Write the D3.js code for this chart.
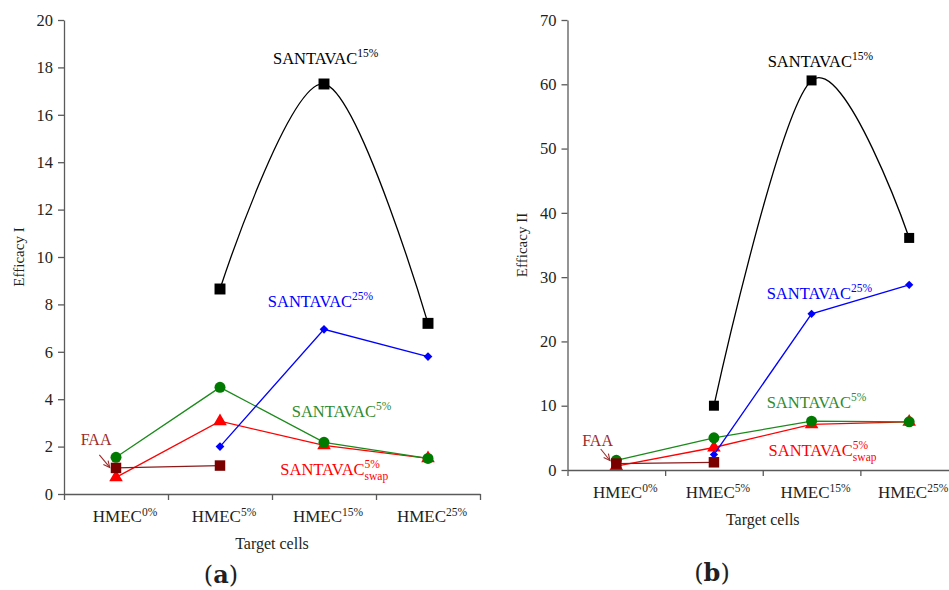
<!doctype html>
<html>
  <head>
    <script src="https://cdnjs.cloudflare.com/ajax/libs/d3/7.8.5/d3.min.js"></script>
  <style>
    body { margin: 0; background: #fff; }
    svg text { font-family: "Liberation Serif", "DejaVu Serif", serif; fill: #231f20; }
    .axis path, .axis line { stroke: #5a5a5a; stroke-width: 1.3; }
  </style>
  </head>
  <body>
    <svg id="chart" width="949" height="590"></svg>
    <script>
      // categories
      var catBase = "HMEC";
      var catSup = ["0%", "5%", "15%", "25%"];

      // panel (a) - Efficacy I
      var a_santavac15 = [null, 8.65, 17.3, 7.2];
      var a_santavac25 = [null, 2.0, 6.95, 5.8];
      var a_santavac5 = [1.55, 4.5, 2.18, 1.5];
      var a_santavac5swap = [0.7, 3.07, 2.05, 1.5];
      var a_faa = [1.1, 1.2, null, null];
      var a_yTicks = [0, 2, 4, 6, 8, 10, 12, 14, 16, 18, 20];

      // panel (b) - Efficacy II
      var b_santavac15 = [null, 10.0, 60.6, 36.1];
      var b_santavac25 = [null, 2.4, 24.3, 28.8];
      var b_santavac5 = [1.5, 5.0, 7.6, 7.5];
      var b_santavac5swap = [0.6, 3.5, 7.1, 7.5];
      var b_faa = [1.0, 1.2, null, null];
      var b_yTicks = [0, 10, 20, 30, 40, 50, 60, 70];

      var svg = d3.select("#chart");

      var colors = {
        s15: "#000000", s25: "#0000ff", s5: "#1a8a1a", s5m: "#007a00",
        swap: "#ff0000", faa: "#7a0000", faaText: "#9b2b2b"
      };

      // label shift so HMEC text sits like the original (first one sits further right)
      var catShift = [9, 4, 4, 4];

      function drawPanel(p) {
        var g = svg.append("g");
        var xLin = d3.scaleLinear().domain([0, 4]).range([p.x0, p.x1]);
        var y = d3.scaleLinear().domain([0, p.yMax]).range([p.y0, p.y1]);
        var cx = i => xLin(i + 0.5);

        // axes
        g.append("g").attr("class", "axis")
          .attr("transform", "translate(" + p.x0 + ",0)")
          .call(d3.axisLeft(y).tickValues(p.yTicks).tickSize(6).tickSizeOuter(0).tickPadding(5))
          .call(s => s.selectAll("text").style("font-size", "16.5px").attr("fill", "#231f20"));
        g.append("g").attr("class", "axis")
          .attr("transform", "translate(0," + p.y0 + ")")
          .call(d3.axisBottom(xLin).tickValues([0, 1, 2, 3, 4]).tickSize(6).tickSizeOuter(0).tickFormat(""));

        // category labels
        catSup.forEach(function(s, i) {
          var t = g.append("text").attr("x", cx(i) + catShift[i]).attr("y", p.y0 + 28)
            .attr("text-anchor", "middle").style("font-size", "17px");
          t.append("tspan").text(catBase);
          t.append("tspan").attr("dy", -6).style("font-size", "11.5px").text(s);
        });

        g.append("text").attr("x", (p.x0 + p.x1) / 2).attr("y", p.y0 + 55)
          .attr("text-anchor", "middle").style("font-size", "16px").text("Target cells");

        g.append("text")
          .attr("transform", "translate(" + p.yLabelX + "," + ((p.y0 + p.y1) / 2) + ") rotate(-90)")
          .attr("text-anchor", "middle").style("font-size", "15px").text(p.yLabel);

        g.append("text").attr("x", p.tagX).attr("y", p.tagY).attr("text-anchor", "middle")
          .style("font-size", "24px").style("font-family", "'DejaVu Serif', serif")
          .html('(<tspan font-weight="bold">' + p.tag + '</tspan>)');

        // series
        function series(vals, color, mColor, curve, marker, size, rot) {
          var pts = vals.map((v, i) => ({ i: i, v: v })).filter(d => d.v != null);
          var line = d3.line().x(d => cx(d.i)).y(d => y(d.v)).curve(curve);
          g.append("path").attr("d", line(pts)).attr("fill", "none")
            .attr("stroke", color).attr("stroke-width", 1.3);
          g.selectAll(null).data(pts).enter().append("path")
            .attr("transform", d => "translate(" + cx(d.i) + "," + y(d.v) + ")" + (rot ? " rotate(45)" : ""))
            .attr("d", d3.symbol().type(marker).size(size))
            .attr("fill", mColor);
        }
        series(p.swap, colors.swap, colors.swap, d3.curveLinear, d3.symbolTriangle, 80);
        series(p.s5, colors.s5, colors.s5m, d3.curveLinear, d3.symbolCircle, 95);
        series(p.s25, colors.s25, colors.s25, d3.curveLinear, d3.symbolSquare, p.diamond, true);
        series(p.faa, "#8b1a1a", colors.faa, d3.curveLinear, d3.symbolSquare, 110);
        series(p.s15, colors.s15, colors.s15, d3.curveCatmullRom.alpha(0), d3.symbolSquare, p.square);

        // annotations
        function label(pos, color, sup, sub) {
          var t = g.append("text").attr("x", xLin(pos[0])).attr("y", y(pos[1]))
            .style("font-size", "16.5px").style("fill", color).text("SANTAVAC");
          var w = t.node().getComputedTextLength();
          g.append("text").attr("x", xLin(pos[0]) + w).attr("y", y(pos[1]) - 7)
            .style("font-size", "11.5px").style("fill", color).text(sup);
          if (sub) {
            g.append("text").attr("x", xLin(pos[0]) + w).attr("y", y(pos[1]) + 5)
              .style("font-size", "11.5px").style("fill", color).text(sub);
          }
        }
        label(p.l15, colors.s15, "15%");
        label(p.l25, colors.s25, "25%");
        label(p.l5, "#2e8b2e", "5%");
        label(p.lswap, colors.swap, "5%", "swap");

        g.append("text").attr("x", xLin(p.lfaa[0])).attr("y", y(p.lfaa[1]))
          .style("font-size", "16px").style("fill", colors.faaText).text("FAA");
        var ax0 = xLin(p.arrow[0]), ay0 = y(p.arrow[1]), ax1 = xLin(p.arrow[2]), ay1 = y(p.arrow[3]);
        g.append("line").attr("x1", ax0).attr("y1", ay0).attr("x2", ax1).attr("y2", ay1)
          .attr("stroke", colors.faaText).attr("stroke-width", 1.1);
        var ang = Math.atan2(ay1 - ay0, ax1 - ax0);
        var hl = 7;
        g.append("path")
          .attr("d", "M" + (ax1 - hl * Math.cos(ang - 0.45)) + "," + (ay1 - hl * Math.sin(ang - 0.45)) +
            "L" + ax1 + "," + ay1 +
            "L" + (ax1 - hl * Math.cos(ang + 0.45)) + "," + (ay1 - hl * Math.sin(ang + 0.45)))
          .attr("fill", "none").attr("stroke", colors.faaText).attr("stroke-width", 1.1);
      }

      drawPanel({
        x0: 64, x1: 480, y0: 494, y1: 20, yMax: 20, yTicks: a_yTicks,
        yLabel: "Efficacy I", yLabelX: 24, tag: "a", tagX: 221, tagY: 583,
        s15: a_santavac15, s25: a_santavac25, s5: a_santavac5, swap: a_santavac5swap, faa: a_faa,
        square: 120, diamond: 38,
        l15: [2.01, 18.15], l25: [1.96, 7.9], l5: [2.19, 3.25], lswap: [2.08, 0.8],
        lfaa: [0.16, 2.07], arrow: [0.34, 1.65, 0.44, 1.12]
      });

      drawPanel({
        x0: 567.5, x1: 958, y0: 470, y1: 20, yMax: 70, yTicks: b_yTicks,
        yLabel: "Efficacy II", yLabelX: 527, tag: "b", tagX: 712, tagY: 581,
        s15: b_santavac15, s25: b_santavac25, s5: b_santavac5, swap: b_santavac5swap, faa: b_faa,
        square: 100, diamond: 34,
        l15: [2.05, 62.7], l25: [2.04, 26.6], l5: [2.04, 9.64], lswap: [2.06, 2.18],
        lfaa: [0.15, 3.73], arrow: [0.34, 3.27, 0.435, 1.48]
      });
    </script>
  </body>
</html>
